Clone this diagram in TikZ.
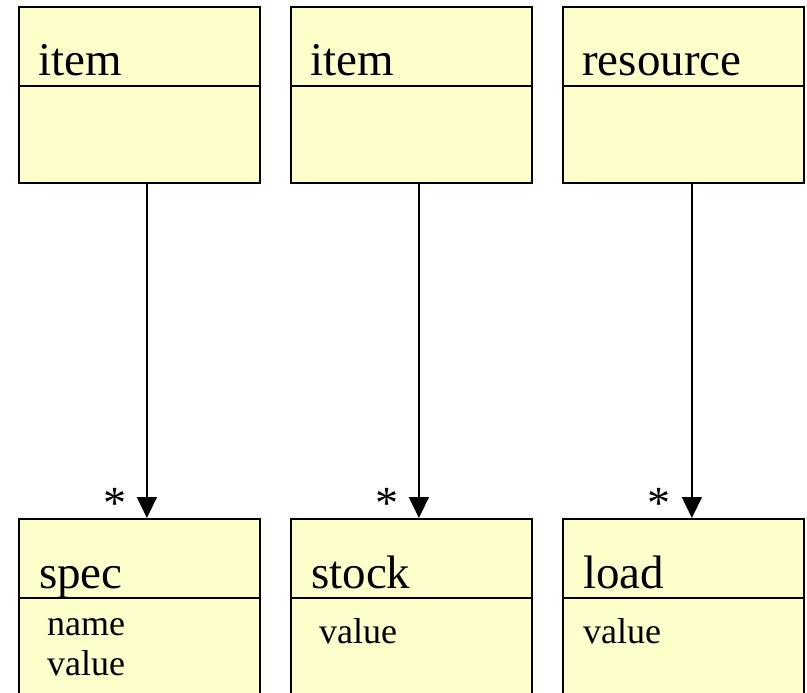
\documentclass[tikz,border=0pt]{standalone}
\usepackage{fontspec}
\setmainfont{Liberation Serif}
\usetikzlibrary{arrows.meta}
\definecolor{classfill}{HTML}{FFFFCC}
\begin{document}
\begin{tikzpicture}[x=1pt,y=-1pt,
  classbox/.style={draw=black, line width=1.8pt, fill=classfill, rectangle,
    anchor=north west, inner sep=0pt, minimum width=241pt},
  topbox/.style={classbox, minimum height=176pt},
  lowbox/.style={classbox, minimum height=220pt},
  divider/.style={line width=1.8pt},
  title/.style={anchor=base west, inner sep=0pt, font=\fontsize{47}{52}\selectfont},
  attr/.style={anchor=base west, inner sep=0pt, align=left, font=\fontsize{36}{40}\selectfont},
  assoc/.style={line width=1.8pt, -{Triangle[length=21pt,width=20pt]}},
  mult/.style={inner sep=0pt, font=\fontsize{46}{48}\selectfont}
]
\useasboundingbox (0,0) rectangle (807,693);
\clip (0,0) rectangle (807,693);

% upper classes
\node[topbox] (itemA) at (18,6) {};
\node[topbox] (itemB) at (290,6) {};
\node[topbox] (res) at (562,6) {};

% lower classes (run past the lower edge)
\node[lowbox] (spec) at (18,518) {};
\node[lowbox] (stock) at (290,518) {};
\node[lowbox] (load) at (562,518) {};

% compartment dividers
\foreach \b in {itemA,itemB,res} {
  \draw[divider] (\b.west |- 0,86) -- (\b.east |- 0,86);
}
\foreach \b in {spec,stock,load} {
  \draw[divider] (\b.west |- 0,598) -- (\b.east |- 0,598);
}

% class names
\node[title] (tItemA) at (38,76) {item};
\node[title] (tItemB) at (310,76) {item};
\node[title] (tRes) at (582,76) {resource};
\node[title] (tSpec) at (39,588) {spec};
\node[title] (tStock) at (311,588) {stock};
\node[title] (tLoad) at (583,588) {load};

% attributes
\node[attr] (aSpec1) at (47,635) {name};
\node[attr] (aSpec2) at (47,675) {value};
\node[attr] (aStock) at (319,643) {value};
\node[attr] (aLoad) at (583,643) {value};

% associations
\draw[assoc] ([xshift=7.5pt]itemA.south) -- ([xshift=7.5pt]spec.north);
\draw[assoc] ([xshift=7.5pt]itemB.south) -- ([xshift=7.5pt]stock.north);
\draw[assoc] ([xshift=8.5pt]res.south) -- ([xshift=8.5pt]load.north);

% multiplicities
\node[mult] (m1) at ([xshift=-24pt,yshift=15pt]spec.north) {*};
\node[mult] (m2) at ([xshift=-24pt,yshift=15pt]stock.north) {*};
\node[mult] (m3) at ([xshift=-24pt,yshift=15pt]load.north) {*};
\end{tikzpicture}
\end{document}
